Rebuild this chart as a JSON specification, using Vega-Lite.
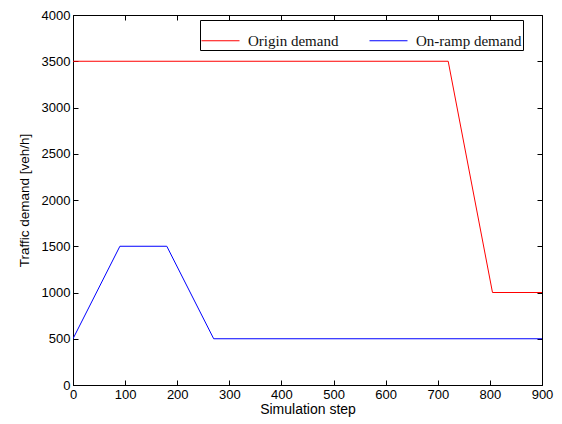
{
  "$schema": "https://vega.github.io/schema/vega-lite/v6.json",
  "width": 469,
  "height": 370,
  "autosize": {"type": "none"},
  "padding": {"left": 73, "top": 15, "right": 20, "bottom": 39},
  "background": "white",
  "config": {
    "view": {"stroke": "black", "strokeWidth": 1},
    "axis": {
      "grid": false,
      "domainColor": "black",
      "tickColor": "black",
      "labelColor": "black",
      "titleColor": "black",
      "labelFont": "Liberation Sans",
      "titleFont": "Liberation Sans",
      "labelFontSize": 13,
      "titleFontSize": 14,
      "titleFontWeight": "normal",
      "tickSize": -5,
      "labelFlush": false,
      "labelOverlap": false,
      "format": "d"
    }
  },
  "data": {
    "values": [
      {"series": "Origin demand", "step": 0, "demand": 3500},
      {"series": "Origin demand", "step": 720, "demand": 3500},
      {"series": "Origin demand", "step": 805, "demand": 1000},
      {"series": "Origin demand", "step": 900, "demand": 1000},
      {"series": "On-ramp demand", "step": 0, "demand": 500},
      {"series": "On-ramp demand", "step": 90, "demand": 1500},
      {"series": "On-ramp demand", "step": 180, "demand": 1500},
      {"series": "On-ramp demand", "step": 270, "demand": 500},
      {"series": "On-ramp demand", "step": 900, "demand": 500}
    ]
  },
  "layer": [
    {
      "mark": {"type": "line", "strokeWidth": 1, "clip": true},
      "encoding": {
        "x": {"field": "step", "type": "quantitative", "scale": {"domain": [0, 900], "nice": false},
              "axis": {"title": "Simulation step", "values": [0,100,200,300,400,500,600,700,800,900], "labelPadding": 8, "titlePadding": 1}},
        "y": {"field": "demand", "type": "quantitative", "scale": {"domain": [0, 4000], "nice": false},
              "axis": {"title": "Traffic demand [veh/h]", "titleFontSize": 13.5, "values": [0,500,1000,1500,2000,2500,3000,3500,4000], "labelPadding": 8, "titlePadding": 10}},
        "color": {"field": "series", "type": "nominal",
          "scale": {"domain": ["Origin demand", "On-ramp demand"], "range": ["#ff0000", "#0000ff"]},
          "legend": {
            "title": null, "orient": "none", "legendX": 127, "legendY": 5,
            "direction": "horizontal", "symbolType": "stroke", "symbolSize": 1444,
            "symbolStrokeWidth": 1, "labelFont": "Liberation Serif", "labelFontSize": 15,
            "labelColor": "#111", "strokeColor": "black", "fillColor": "white",
            "padding": 1, "columnPadding": 28, "labelOffset": 8, "labelLimit": 300
          }
        },
        "order": {"field": "step", "type": "quantitative"}
      }
    },
    {
      "mark": {"type": "line", "opacity": 0},
      "encoding": {
        "x": {"field": "step", "type": "quantitative", "scale": {"domain": [0, 900], "nice": false},
              "axis": {"orient": "top", "title": null, "labels": false, "domain": false, "values": [0,100,200,300,400,500,600,700,800,900]}},
        "y": {"field": "demand", "type": "quantitative", "scale": {"domain": [0, 4000], "nice": false},
              "axis": {"orient": "right", "title": null, "labels": false, "domain": false, "values": [0,500,1000,1500,2000,2500,3000,3500,4000]}},
        "detail": {"field": "series"}
      }
    }
  ],
  "resolve": {"axis": {"x": "independent", "y": "independent"}}
}
